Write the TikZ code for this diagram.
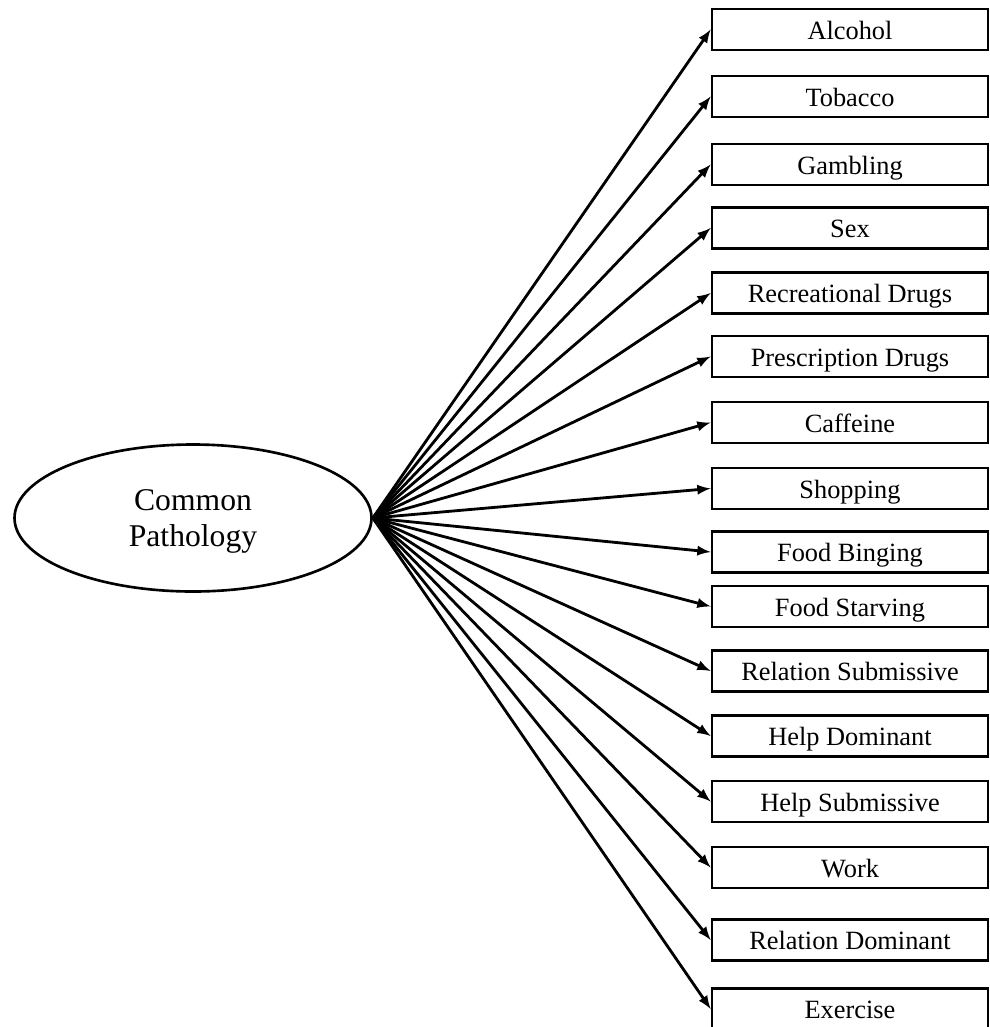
\documentclass[tikz,border=0pt]{standalone}
\usepackage{fontspec}
\setmainfont{Liberation Serif}
\usetikzlibrary{arrows,shapes.geometric,positioning}

\begin{document}
\begin{tikzpicture}[x=0.2mm,y=-0.2mm,>=latex]

\tikzset{indbox/.style={draw,line width=1.5pt,minimum width=5.52cm,minimum height=0.82cm,inner sep=0pt,text height=1.1em,text depth=0pt,font=\fontsize{15}{18}\selectfont},
latent/.style={draw,line width=1.5pt,shape=ellipse,minimum width=7.14cm,minimum height=2.94cm,inner sep=0pt,align=center,text depth=0pt,font=\fontsize{18}{21}\selectfont},
loading/.style={->,line width=1.6pt}}

\useasboundingbox (0,0) rectangle (990,1027);

% Latent factor
\node[latent] (commonPath) at (193,518) {Common\\Pathology};

% Indicators and loadings
\foreach \y/\name [count=\i] in {29.5/Alcohol, 96.5/Tobacco, 164.5/Gambling, 228/Sex, 293/Recreational Drugs, 356.5/Prescription Drugs, 422.5/Caffeine, 488.5/Shopping, 552/Food Binging, 606.5/Food Starving, 671/Relation Submissive, 736/Help Dominant, 801.5/Help Submissive, 867.5/Work, 940/Relation Dominant, 1009/Exercise}
{
  \node[indbox] (ind\i) at (850,\y) {\name};
  \draw[loading] (commonPath.east) -- (ind\i.west);
}

\end{tikzpicture}
\end{document}
